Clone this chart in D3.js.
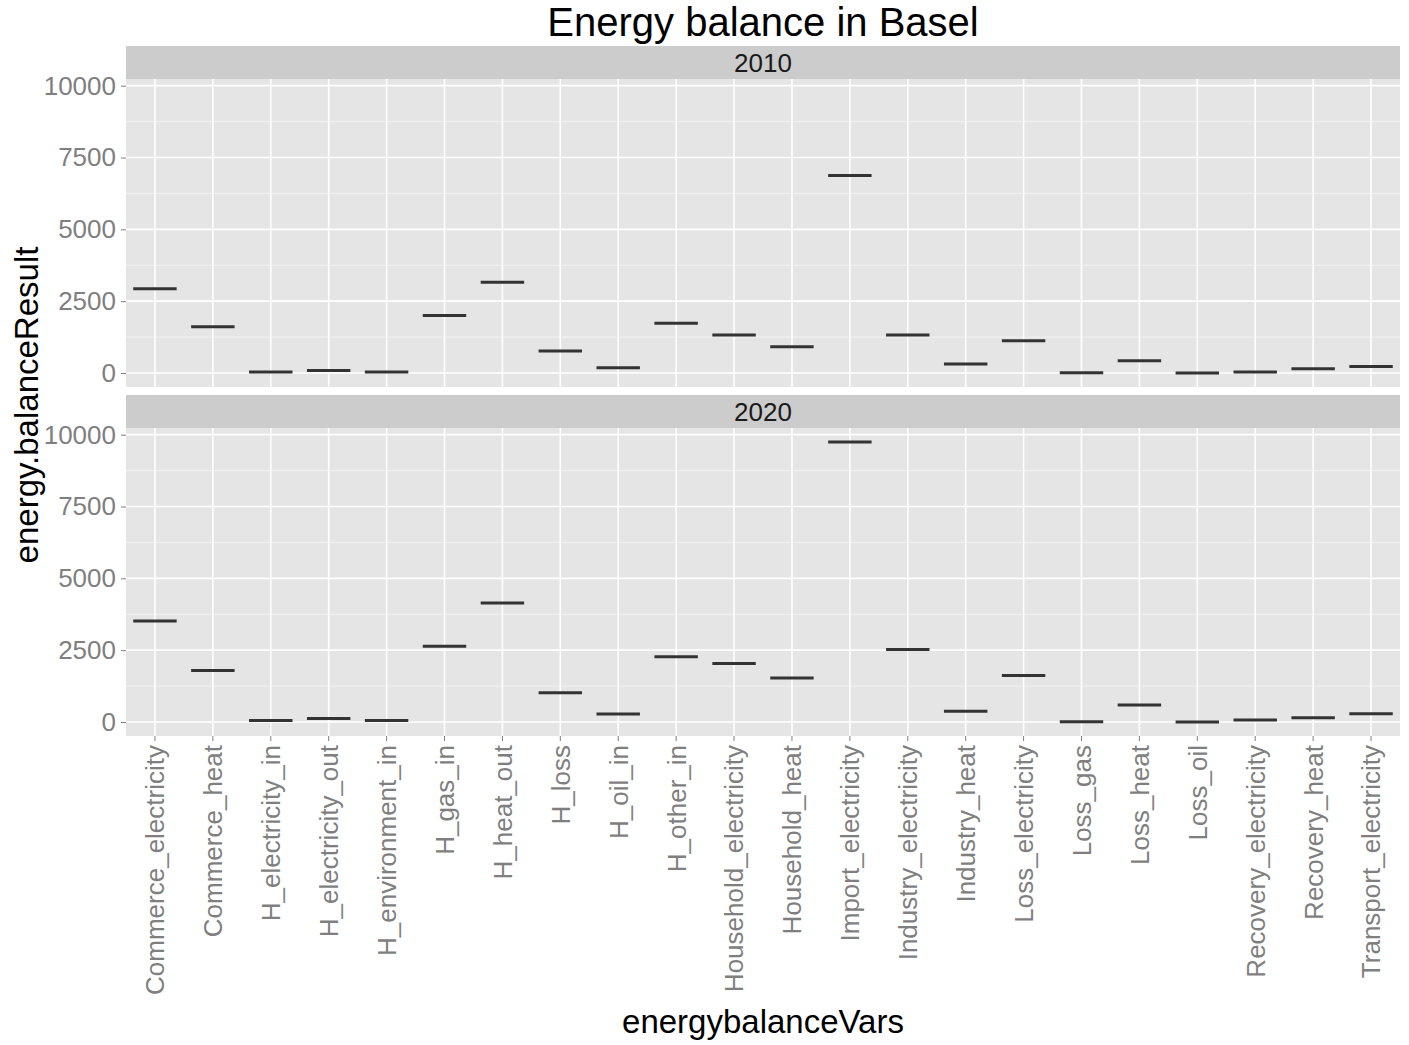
<!DOCTYPE html>
<html lang="en">
<head>
    <meta charset="UTF-8">
    <title>Energy balance in Basel</title>
    <script src="https://d3js.org/d3.v7.min.js"></script>
    <style>
        body {
            margin: 0;
            background: #ffffff;
            font-family: 'Liberation Sans', Arial, sans-serif;
        }
        .tick-label { fill: #7f7f7f; font-size: 26px; }
        .strip-label { fill: #1a1a1a; font-size: 26px; }
        .axis-title { fill: #000000; font-size: 33px; }
        .title { fill: #000000; font-size: 40px; }
    </style>
</head>
<body>
    <svg width="1409" height="1045"></svg>
    <script>
        const categories = [
            "Commerce_electricity", "Commerce_heat", "H_electricity_in", "H_electricity_out",
            "H_environment_in", "H_gas_in", "H_heat_out", "H_loss", "H_oil_in", "H_other_in",
            "Household_electricity", "Household_heat", "Import_electricity", "Industry_electricity",
            "Industry_heat", "Loss_electricity", "Loss_gas", "Loss_heat", "Loss_oil",
            "Recovery_electricity", "Recovery_heat", "Transport_electricity"
        ];
        const years = ["2010", "2020"];
        const values2010 = [2930, 1610, 35, 90, 35, 2005, 3155, 765, 185, 1730, 1325, 915, 6870, 1325, 315, 1125, 10, 430, 0, 35, 150, 230];
        const values2020 = [3515, 1790, 55, 125, 55, 2635, 4140, 1015, 280, 2275, 2035, 1535, 9745, 2520, 370, 1615, 10, 590, 0, 70, 150, 290];
        const yTicks = [0, 2500, 5000, 7500, 10000];
        const yMinorTicks = [1250, 3750, 6250, 8750];

        const seriesByYear = { "2010": values2010, "2020": values2020 };

        const svg = d3.select("svg");

        // layout
        const plotLeft = 126, plotRight = 1400;
        const stripH = 33, panelH = 308, panelGap = 8;
        const firstTop = 46;
        const panels = years.map((yr, i) => {
            const stripTop = firstTop + i * (stripH + panelH + panelGap);
            return { year: yr, stripTop: stripTop, top: stripTop + stripH, bottom: stripTop + stripH + panelH };
        });

        const x = d3.scaleBand()
            .domain(categories)
            .range([plotLeft, plotRight])
            .padding(0);
        const boxW = x.bandwidth() * 0.75;

        // same y range in both facets, with 5% expansion like ggplot
        const allVals = values2010.concat(values2020);
        const [vMin, vMax] = d3.extent(allVals);
        const pad = (vMax - vMin) * 0.05;

        panels.forEach(p => {
            const y = d3.scaleLinear()
                .domain([vMin - pad, vMax + pad])
                .range([p.bottom, p.top]);
            const g = svg.append("g");

            // strip
            g.append("rect")
                .attr("x", plotLeft).attr("y", p.stripTop)
                .attr("width", plotRight - plotLeft).attr("height", stripH)
                .attr("fill", "#cccccc");
            g.append("text")
                .attr("class", "strip-label")
                .attr("x", (plotLeft + plotRight) / 2)
                .attr("y", p.stripTop + stripH / 2)
                .attr("dy", "0.36em")
                .attr("text-anchor", "middle")
                .text(p.year);

            // panel background
            g.append("rect")
                .attr("x", plotLeft).attr("y", p.top)
                .attr("width", plotRight - plotLeft).attr("height", panelH)
                .attr("fill", "#e5e5e5");

            // minor grid
            g.selectAll(".minor").data(yMinorTicks).enter().append("line")
                .attr("x1", plotLeft).attr("x2", plotRight)
                .attr("y1", d => y(d)).attr("y2", d => y(d))
                .attr("stroke", "#f2f2f2").attr("stroke-width", 1);

            // major grid
            g.selectAll(".hmajor").data(yTicks).enter().append("line")
                .attr("x1", plotLeft).attr("x2", plotRight)
                .attr("y1", d => y(d)).attr("y2", d => y(d))
                .attr("stroke", "#ffffff").attr("stroke-width", 1.6);
            g.selectAll(".vmajor").data(categories).enter().append("line")
                .attr("x1", d => x(d) + x.bandwidth() / 2).attr("x2", d => x(d) + x.bandwidth() / 2)
                .attr("y1", p.top).attr("y2", p.bottom)
                .attr("stroke", "#ffffff").attr("stroke-width", 1.6);

            // y axis
            const yAxis = g.append("g")
                .attr("transform", `translate(${plotLeft},0)`)
                .call(d3.axisLeft(y).tickValues(yTicks).tickSize(5).tickPadding(5).tickFormat(d3.format("d")));
            yAxis.select(".domain").remove();
            yAxis.selectAll("line").attr("stroke", "#7f7f7f");
            yAxis.selectAll("text").attr("class", "tick-label").attr("font-size", null).attr("font-family", null).attr("fill", null);

            // boxes (single value per group, so the box collapses to its median)
            const vals = seriesByYear[p.year];
            const boxes = g.selectAll(".box").data(categories).enter().append("g");
            boxes.append("rect")
                .attr("x", d => x(d) + (x.bandwidth() - boxW) / 2)
                .attr("y", (d, i) => y(vals[i]))
                .attr("width", boxW).attr("height", 0)
                .attr("fill", "#ffffff").attr("stroke", "#333333").attr("stroke-width", 0.5);
            boxes.append("line")
                .attr("x1", d => x(d) + (x.bandwidth() - boxW) / 2)
                .attr("x2", d => x(d) + (x.bandwidth() + boxW) / 2)
                .attr("y1", (d, i) => y(vals[i])).attr("y2", (d, i) => y(vals[i]))
                .attr("stroke", "#333333").attr("stroke-width", 3);
        });

        // x axis under the last panel
        const last = panels[panels.length - 1];
        const xAxis = svg.append("g")
            .attr("transform", `translate(0,${last.bottom})`)
            .call(d3.axisBottom(x).tickSize(5).tickPadding(0));
        xAxis.select(".domain").remove();
        xAxis.selectAll("line").attr("stroke", "#7f7f7f");
        xAxis.selectAll("text")
            .attr("class", "tick-label")
            .attr("font-size", null).attr("font-family", null).attr("fill", null)
            .attr("text-anchor", "end")
            .attr("transform", "rotate(-90)")
            .attr("x", -9)
            .attr("y", 0)
            .attr("dy", "0.36em");

        // titles
        svg.append("text")
            .attr("class", "title")
            .attr("x", (plotLeft + plotRight) / 2)
            .attr("y", 36)
            .attr("text-anchor", "middle")
            .text("Energy balance in Basel");

        svg.append("text")
            .attr("class", "axis-title")
            .attr("x", (plotLeft + plotRight) / 2)
            .attr("y", 1033)
            .attr("text-anchor", "middle")
            .text("energybalanceVars");

        svg.append("text")
            .attr("class", "axis-title")
            .attr("font-size", "34px")
            .attr("transform", `translate(38,${(firstTop + last.bottom) / 2 + 14}) rotate(-90)`)
            .attr("text-anchor", "middle")
            .text("energy.balanceResult");
    </script>
</body>
</html>
